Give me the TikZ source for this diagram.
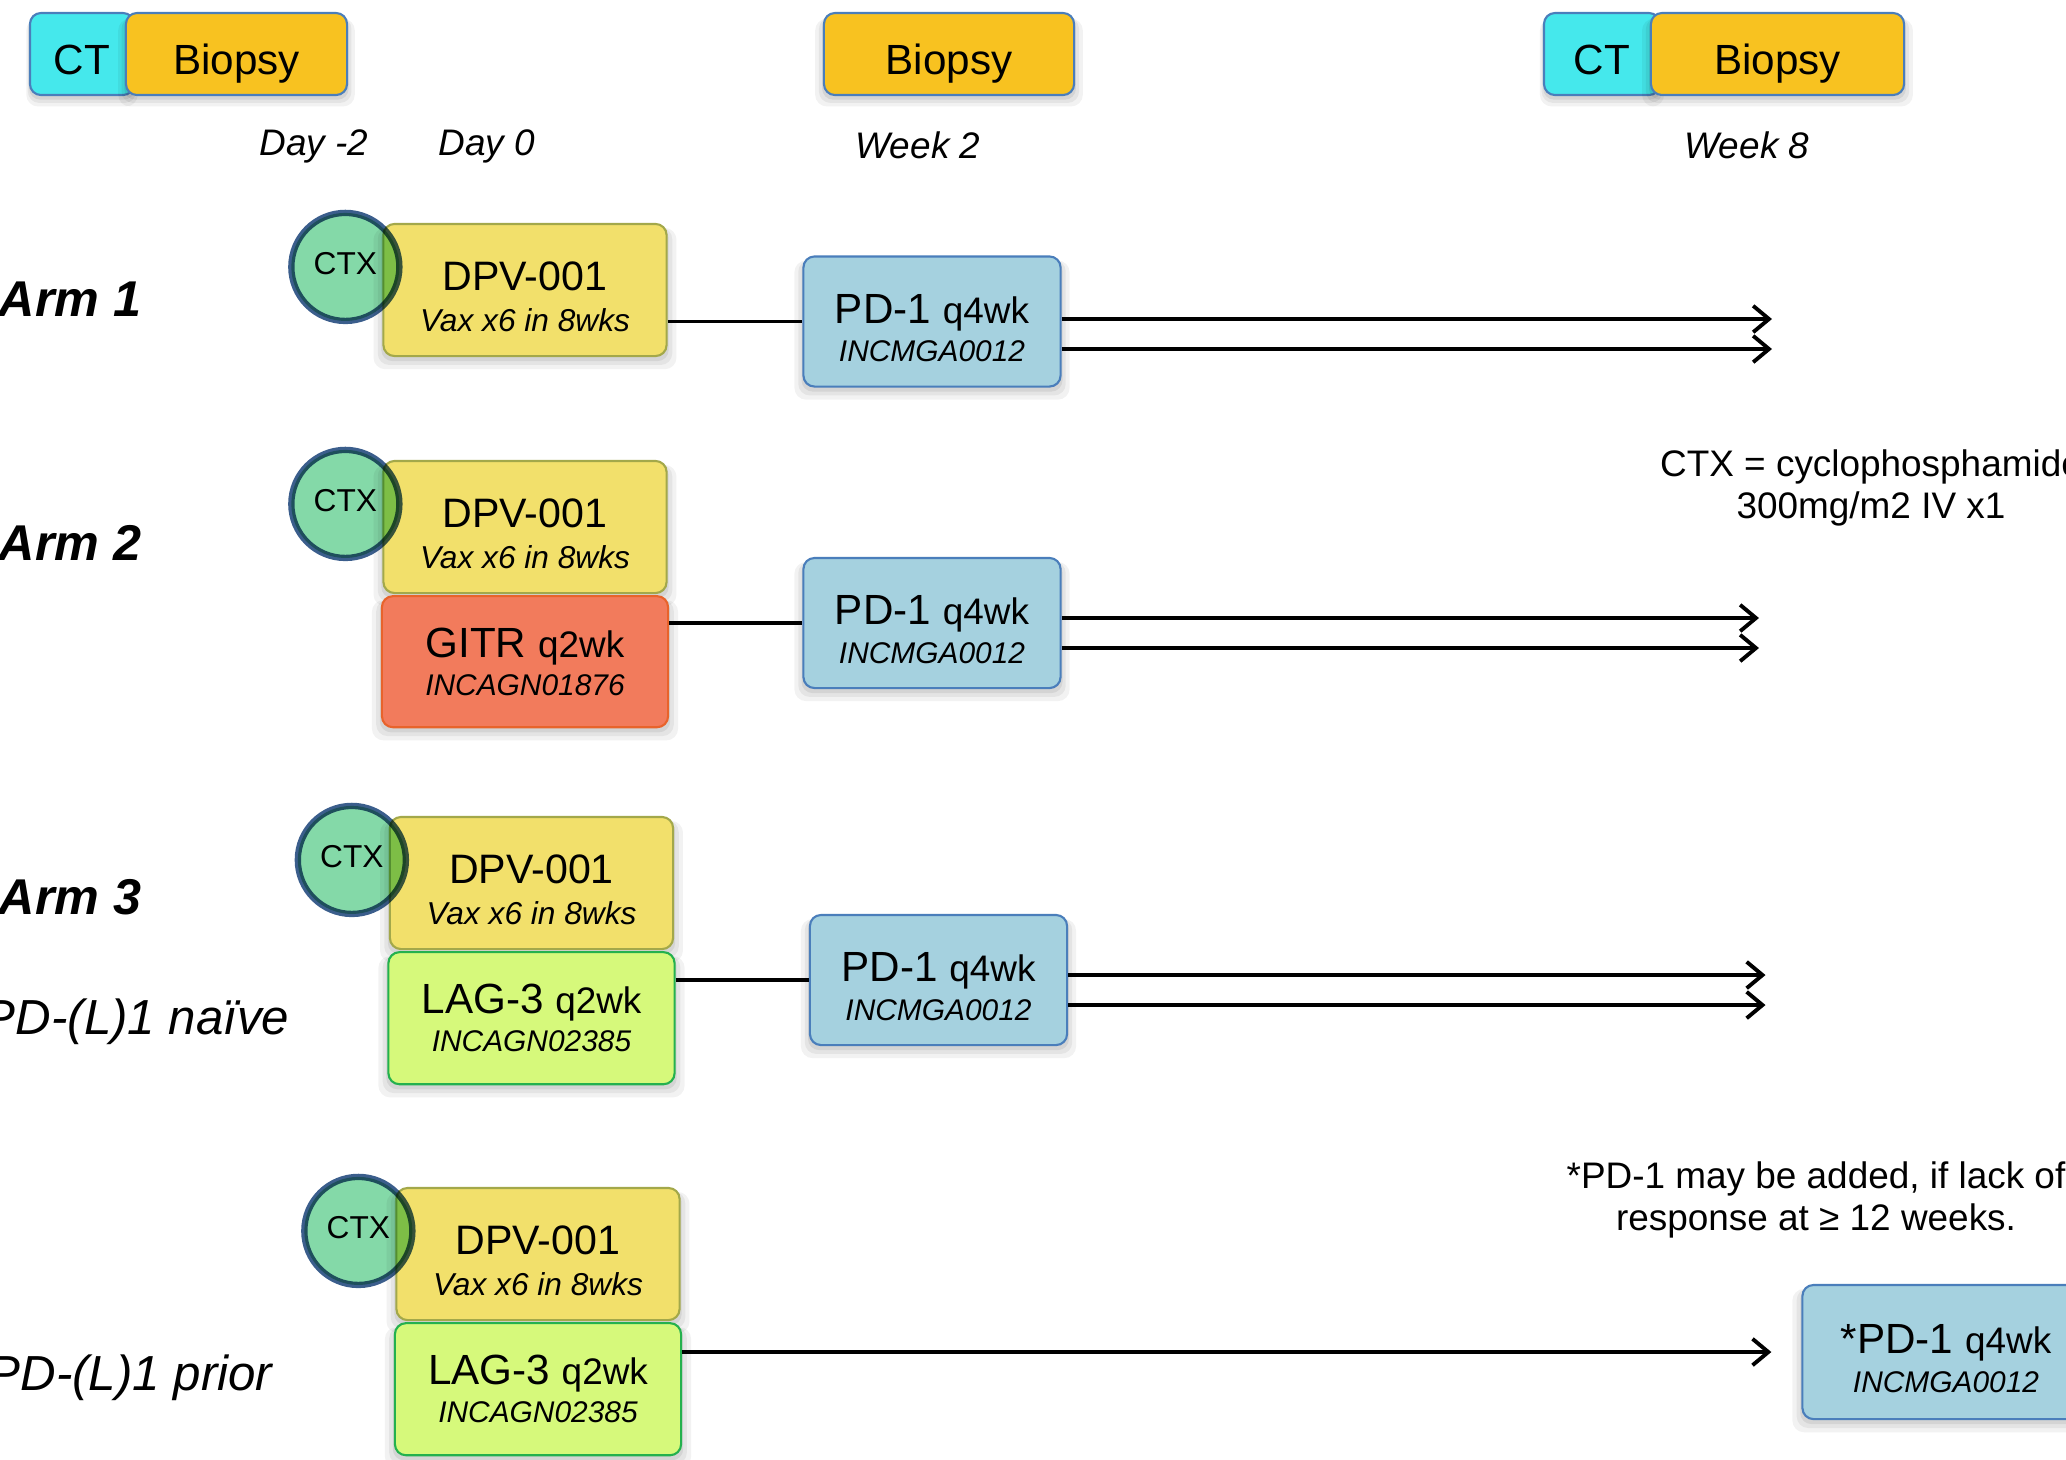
\documentclass[tikz,border=0pt]{standalone}
\usepackage{fontspec}
\setmainfont{Liberation Sans}
\usetikzlibrary{positioning,arrows.meta,shadows}
\definecolor{ctcyan}{HTML}{45E8EC}
\definecolor{biopsygold}{HTML}{F8C220}
\definecolor{edgeblue}{HTML}{4A7EBB}
\definecolor{ctxmint}{HTML}{84D9A8}
\definecolor{ctxring}{HTML}{3B5E8C}
\definecolor{dpvfill}{HTML}{F2E06B}
\definecolor{dpvedge}{HTML}{A3A84A}
\definecolor{gitrfill}{HTML}{F27B5C}
\definecolor{gitredge}{HTML}{E8632B}
\definecolor{lagfill}{HTML}{D6F97B}
\definecolor{lagedge}{HTML}{24B14E}
\definecolor{pdfill}{HTML}{A5D1DF}
\newcommand{\agent}[3]{{\fontsize{12}{13.5}\selectfont #1 {\fontsize{10.5}{12}\selectfont #2}}\\[-2.6pt]{\fontsize{8.5}{10}\selectfont\itshape #3}}
\newcommand{\lift}{\rule{0pt}{12pt}}
\newcommand{\vax}{{\fontsize{11.7}{13.7}\selectfont\lift DPV-001}\\[-1.9pt]{\fontsize{9}{10}\selectfont\itshape Vax x6 in 8wks}}

\begin{document}
\begin{tikzpicture}[x=0.01cm, y=-0.01cm, node distance=0.01cm,
  every node/.style={align=center, inner sep=0pt},
  soft/.style={general shadow={fill=black, opacity=0.05, shadow yshift=-0.08cm, shadow scale=1.07},
    general shadow={fill=black, opacity=0.06, shadow yshift=-0.06cm, shadow scale=1.04},
    general shadow={fill=black, opacity=0.07, shadow yshift=-0.04cm, shadow scale=1.015}},
  tile/.style={draw, rounded corners=0.11cm, line width=0.6pt, soft, font=\fontsize{12}{13.5}\selectfont},
  ctbox/.style={tile, fill=ctcyan, draw=edgeblue, minimum height=0.82cm, text height=0.40cm, text depth=0pt},
  biopsy/.style={tile, fill=biopsygold, draw=edgeblue, minimum height=0.82cm, text height=0.40cm, text depth=0pt},
  when/.style={font=\fontsize{10.5}{12}\selectfont\itshape},
  arm/.style={anchor=west, font=\fontsize{14.3}{16}\selectfont\bfseries\itshape},
  cohort/.style={anchor=east, font=\fontsize{14}{16}\selectfont\itshape},
  vaxbox/.style={tile, fill=dpvfill, draw=dpvedge, minimum width=2.83cm, minimum height=1.32cm, font=\fontsize{11.7}{13.7}\selectfont},
  gitrbox/.style={tile, fill=gitrfill, draw=gitredge, minimum width=2.86cm, minimum height=1.31cm},
  lagbox/.style={tile, fill=lagfill, draw=lagedge, minimum width=2.86cm, minimum height=1.32cm},
  pdbox/.style={tile, fill=pdfill, draw=edgeblue, minimum width=2.57cm, minimum height=1.30cm},
  ctx/.style={circle, draw=ctxring, line width=1.8pt, fill=ctxmint, minimum size=1.08cm, font=\fontsize{9}{10}\selectfont},
  link/.style={line width=1.1pt},
  arr/.style={link, -{Straight Barb[length=4.5pt,width=7.5pt]}},
  note/.style={font=\fontsize{10.5}{11.8}\selectfont}]
  \useasboundingbox (0,0) rectangle (2066,1459);
  \clip (0,0) rectangle (2066,1459);

  % schedule along the top
  \node[ctbox, minimum width=1.04cm] (ct1) at (82,54) {CT};
  \node[biopsy, minimum width=2.21cm] (bio1) at (236.5,54) {Biopsy};
  \node[biopsy, minimum width=2.50cm] (bio2) at (949,54) {Biopsy};
  \node[ctbox, minimum width=1.16cm] (ct2) at (1602,54) {CT};
  \node[biopsy, minimum width=2.53cm] (bio3) at (1777.5,54) {Biopsy};
  \node[when] (dayA) at (314,146) {Day -2};
  \node[when] (dayB) at (487,146) {Day 0};
  \node[when] (wk2) at (918,145) {Week 2};
  \node[when] (wk8) at (1747,145) {Week 8};

  % Arm 1
  \node[arm] (arm1) at (-2,299) {Arm 1};
  \node[vaxbox] (dpv1) at (525,290) {\vax};
  \node[pdbox] (pd1) at (932,321.5) {\agent{\lift PD-1}{q4wk}{INCMGA0012}};
  \coordinate (e1a) at (1772,319);
  \coordinate (e1b) at (1772,349);
  \draw[link] (dpv1.east |- pd1.west) -- (pd1.west);
  \draw[arr] (pd1.east |- e1a) -- (e1a);
  \draw[arr] (pd1.east |- e1b) -- (e1b);

  % Arm 2
  \node[arm] (arm2) at (-2,543) {Arm 2};
  \node[vaxbox] (dpv2) at (525,527) {\vax};
  \node[gitrbox, below=of dpv2] (gitr2) {\agent{GITR}{q2wk}{INCAGN01876}};
  \node[pdbox] (pd2) at (932,623) {\agent{\lift PD-1}{q4wk}{INCMGA0012}};
  \coordinate (e2a) at (1759,618);
  \coordinate (e2b) at (1759,648);
  \draw[link] (gitr2.east |- pd2.west) -- (pd2.west);
  \draw[arr] (pd2.east |- e2a) -- (e2a);
  \draw[arr] (pd2.east |- e2b) -- (e2b);

  % Arm 3, PD-(L)1 naive
  \node[arm] (arm3) at (-2,897) {Arm 3};
  \node[cohort] (naive) at (290,1022) {PD-(L)1 naïve};
  \node[vaxbox] (dpv3) at (531.5,883) {\vax};
  \node[lagbox, below=of dpv3] (lag3) {\agent{LAG-3}{q2wk}{INCAGN02385}};
  \node[pdbox] (pd3) at (938.5,980) {\agent{\lift PD-1}{q4wk}{INCMGA0012}};
  \coordinate (e3a) at (1765.5,975);
  \coordinate (e3b) at (1765.5,1005);
  \draw[link] (lag3.east |- pd3.west) -- (pd3.west);
  \draw[arr] (pd3.east |- e3a) -- (e3a);
  \draw[arr] (pd3.east |- e3b) -- (e3b);

  % Arm 3, PD-(L)1 prior
  \node[cohort] (prior) at (273,1378) {PD-(L)1 prior};
  \node[vaxbox] (dpv4) at (538,1254) {\vax};
  \node[lagbox, below=of dpv4] (lag4) {\agent{LAG-3}{q2wk}{INCAGN02385}};
  \node[pdbox, minimum width=2.87cm, minimum height=1.34cm] (pdstar) at (1946,1352) {\agent{\lift *PD-1}{q4wk}{INCMGA0012}};
  \draw[arr, shorten >=0.3cm] (lag4.east |- pdstar.west) -- (pdstar.west);

  % cyclophosphamide rings
  \begin{scope}[blend mode=multiply]
    \node[ctx] (ctx1) at ([shift={(-37,44)}]dpv1.north west) {\raisebox{2pt}{CTX}};
    \node[ctx] (ctx2) at ([shift={(-37,44)}]dpv2.north west) {\raisebox{2pt}{CTX}};
    \node[ctx] (ctx3) at ([shift={(-37,44)}]dpv3.north west) {\raisebox{2pt}{CTX}};
    \node[ctx] (ctx4) at ([shift={(-37,44)}]dpv4.north west) {\raisebox{2pt}{CTX}};
  \end{scope}

  % notes
  \node[note] (ctxnote) at (1871,488) {CTX = cyclophosphamide\\300mg/m2 IV x1};
  \node[note] (pdnote) at (1816,1200) {*PD-1 may be added, if lack of\\response at ≥ 12 weeks.};
\end{tikzpicture}
\end{document}
